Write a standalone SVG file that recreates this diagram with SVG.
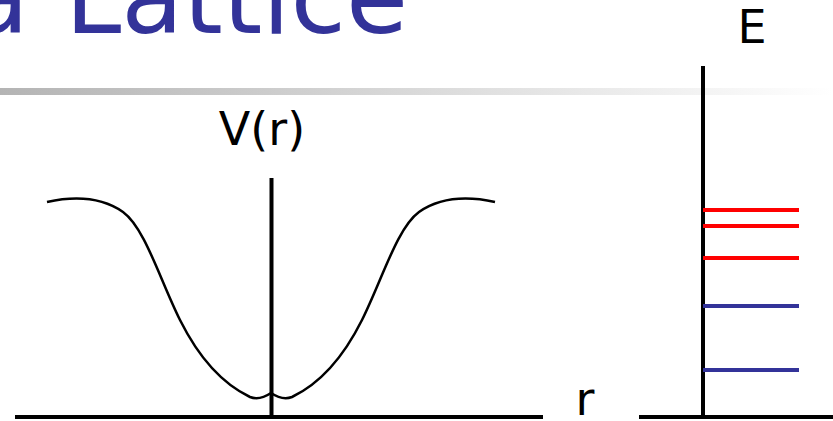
<svg xmlns="http://www.w3.org/2000/svg" width="833" height="421" viewBox="0 0 833 421">
  <defs>
    <linearGradient id="rule" x1="0" y1="0" x2="1" y2="0">
      <stop offset="0" stop-color="#b4b4b4"/>
      <stop offset="1" stop-color="#ffffff"/>
    </linearGradient>
  </defs>
  <style>
    .title { font-family: "DejaVu Sans", Verdana, sans-serif; font-size: 101px; fill: #333399; word-spacing: 4px; }
    .lbl { font-family: "DejaVu Sans", Verdana, sans-serif; font-size: 46px; fill: #000; }
    .axis { stroke: #000; stroke-width: 4; fill: none; }
    .curve { stroke: #000; stroke-width: 2.5; fill: none; }
    .red { stroke: #ff0000; stroke-width: 4; }
    .blue { stroke: #333399; stroke-width: 4; }
  </style>
  <rect width="833" height="421" fill="#ffffff"/>
  <g id="title">
    <text class="title" x="-33" y="33">a Lattice</text>
    <rect x="0" y="88" width="833" height="7" fill="url(#rule)"/>
  </g>
  <g id="potential">
    <line class="axis" x1="15" y1="417" x2="543" y2="417"/>
    <line class="axis" x1="271.5" y1="178" x2="271.5" y2="419"/>
    <path class="curve" d="M47,202 C70,197 100,196 123,212 C145,228 160,280 180,320 C200,360 225,385 250,397 C258,400 265,397 271,393 C277,397 284,400 292,397 C317,385 342,360 362,320 C382,280 397,228 419,212 C442,196 472,197 495,202"/>
    <text class="lbl" x="262" y="145" text-anchor="middle">V(r)</text>
    <text class="lbl" x="585" y="415" text-anchor="middle">r</text>
  </g>
  <g id="energy">
    <line class="axis" x1="639" y1="417" x2="833" y2="417"/>
    <line class="axis" x1="703" y1="66" x2="703" y2="419"/>
    <text class="lbl" x="752" y="43" text-anchor="middle">E</text>
    <line class="red" x1="703" y1="210" x2="799" y2="210"/>
    <line class="red" x1="703" y1="226" x2="799" y2="226"/>
    <line class="red" x1="703" y1="258" x2="799" y2="258"/>
    <line class="blue" x1="703" y1="306" x2="799" y2="306"/>
    <line class="blue" x1="703" y1="370" x2="799" y2="370"/>
  </g>
</svg>
